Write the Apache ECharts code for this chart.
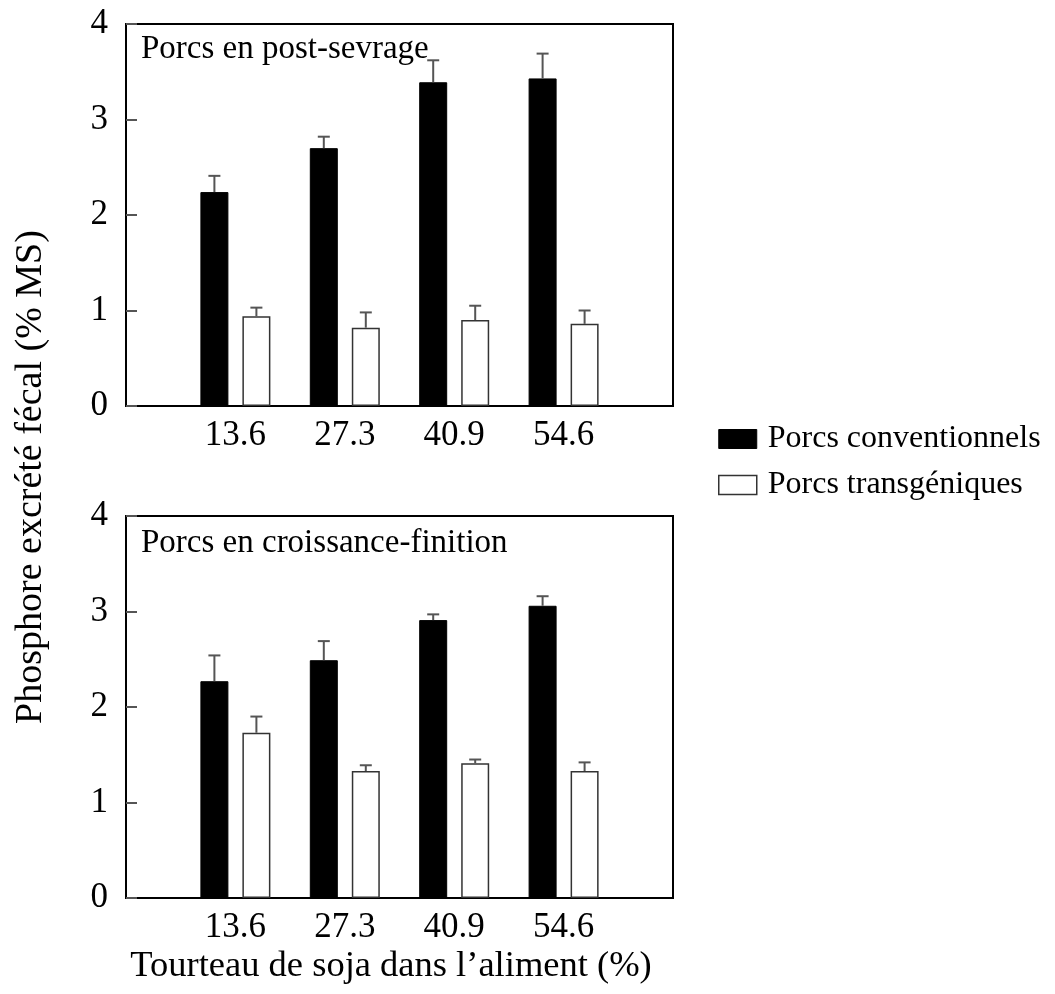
<!DOCTYPE html>
<html>
<head>
<meta charset="utf-8">
<script src="https://cdn.jsdelivr.net/npm/echarts@6/dist/echarts.min.js"></script>
<style>
  html, body { margin: 0; padding: 0; background: #fff; }
  #chart { width: 1055px; height: 994px; }
</style>
</head>
<body>
<div id="chart"></div>
<script>
// Soybean meal level in the diet (%)
const categories = ['13.6', '27.3', '40.9', '54.6'];
const seriesNames = ['Porcs conventionnels', 'Porcs transgéniques'];
const panelTitles = ['Porcs en post-sevrage', 'Porcs en croissance-finition'];
const yTicks = [0, 1, 2, 3, 4];

// Post-weaning pigs: mean faecal P (% DM) and standard error
const weanConv = [2.24, 2.70, 3.39, 3.43];
const weanConvErr = [0.17, 0.12, 0.23, 0.26];
const weanTrans = [0.94, 0.82, 0.90, 0.86];
const weanTransErr = [0.09, 0.16, 0.15, 0.14];

// Growing-finishing pigs
const growConv = [2.27, 2.49, 2.91, 3.06];
const growConvErr = [0.27, 0.20, 0.06, 0.10];
const growTrans = [1.73, 1.33, 1.41, 1.33];
const growTransErr = [0.17, 0.06, 0.04, 0.09];

const FONT = '"Liberation Serif", "Times New Roman", serif';
const BAR_W = 28;
const BAR_GAP = 14;
const OFFSET = (BAR_W + BAR_GAP) / 2;

// the axis carries an empty slot on each side so the groups sit one step in
const axisCats = [''].concat(categories, ['']);
const pad = arr => [null].concat(arr, [null]);

const grids = [
  { left: 126, top: 24, width: 547, height: 382 },
  { left: 126, top: 516, width: 547, height: 382 }
];

function xAxisFor(i) {
  return {
    type: 'category', gridIndex: i, data: axisCats, boundaryGap: false,
    axisLine: { lineStyle: { color: '#000', width: 2 } },
    axisTick: { show: false },
    axisLabel: { interval: 0, color: '#000', fontFamily: FONT, fontSize: 35, margin: 12 },
    splitLine: { show: false }
  };
}
function yAxisFor(i) {
  return {
    type: 'value', gridIndex: i, min: yTicks[0], max: yTicks[yTicks.length - 1], interval: 1,
    axisLine: { show: true, lineStyle: { color: '#000', width: 2 } },
    axisTick: { show: true, inside: true, length: 11, lineStyle: { color: '#555', width: 2 } },
    axisLabel: { color: '#000', fontFamily: FONT, fontSize: 35, margin: 18 },
    splitLine: { show: false }
  };
}

const convStyle = { color: '#000', borderColor: '#000', borderWidth: 1 };
const transStyle = { color: '#fff', borderColor: '#333', borderWidth: 1.5 };

function barSeries(name, gi, values, style) {
  return {
    name: name, type: 'bar', xAxisIndex: gi, yAxisIndex: gi,
    data: pad(values), barWidth: BAR_W, barGap: (BAR_GAP / BAR_W * 100) + '%',
    itemStyle: style, silent: true, z: 2
  };
}

function errSeries(gi, values, errs, dir) {
  const data = values.map((v, k) => [k + 1, v, errs[k]]);
  return {
    type: 'custom', xAxisIndex: gi, yAxisIndex: gi, silent: true, z: 3,
    data: data,
    renderItem: function (params, api) {
      const base = api.coord([api.value(0), api.value(1)]);
      const top = api.coord([api.value(0), api.value(1) + api.value(2)]);
      const x = base[0] + dir * OFFSET;
      const style = { stroke: '#555', lineWidth: 2 };
      return {
        type: 'group',
        children: [
          { type: 'line', shape: { x1: x, y1: base[1], x2: x, y2: top[1] }, style: style },
          { type: 'line', shape: { x1: x - 6, y1: top[1], x2: x + 6, y2: top[1] }, style: style }
        ]
      };
    }
  };
}

const titleStyle = { fontFamily: FONT, fontSize: 33, fontWeight: 'normal', color: '#000' };

const chart = echarts.init(document.getElementById('chart'), null, { renderer: 'canvas' });
chart.setOption({
  backgroundColor: '#fff',
  animation: false,
  grid: grids.map(g => Object.assign({ show: true, borderColor: '#000', borderWidth: 2, backgroundColor: 'transparent' }, g)),
  xAxis: [xAxisFor(0), xAxisFor(1)],
  yAxis: [yAxisFor(0), yAxisFor(1)],
  title: [
    { text: panelTitles[0], left: 141, top: 33, padding: 0, textStyle: titleStyle },
    { text: panelTitles[1], left: 141, top: 527, padding: 0, textStyle: titleStyle }
  ],
  legend: {
    data: [
      { name: seriesNames[0], itemStyle: convStyle },
      { name: seriesNames[1], itemStyle: transStyle }
    ],
    orient: 'vertical', left: 718, top: 423, icon: 'rect',
    itemWidth: 38, itemHeight: 19, itemGap: 14, padding: 0,
    selectedMode: false,
    textStyle: { fontFamily: FONT, fontSize: 32, color: '#000', padding: [0, 0, 0, 6] }
  },
  graphic: [
    {
      type: 'text', x: 31, y: 477, rotation: Math.PI / 2,
      style: { text: 'Phosphore excrété fécal (% MS)', font: '38px ' + FONT, fill: '#000', textAlign: 'center', textVerticalAlign: 'middle' }
    },
    {
      type: 'text', x: 391, y: 966,
      style: { text: 'Tourteau de soja dans l’aliment (%)', font: '36.5px ' + FONT, fill: '#000', textAlign: 'center', textVerticalAlign: 'middle' }
    }
  ],
  series: [
    barSeries(seriesNames[0], 0, weanConv, convStyle),
    barSeries(seriesNames[1], 0, weanTrans, transStyle),
    barSeries(seriesNames[0], 1, growConv, convStyle),
    barSeries(seriesNames[1], 1, growTrans, transStyle),
    errSeries(0, weanConv, weanConvErr, -1),
    errSeries(0, weanTrans, weanTransErr, 1),
    errSeries(1, growConv, growConvErr, -1),
    errSeries(1, growTrans, growTransErr, 1)
  ]
});
</script>
</body>
</html>
